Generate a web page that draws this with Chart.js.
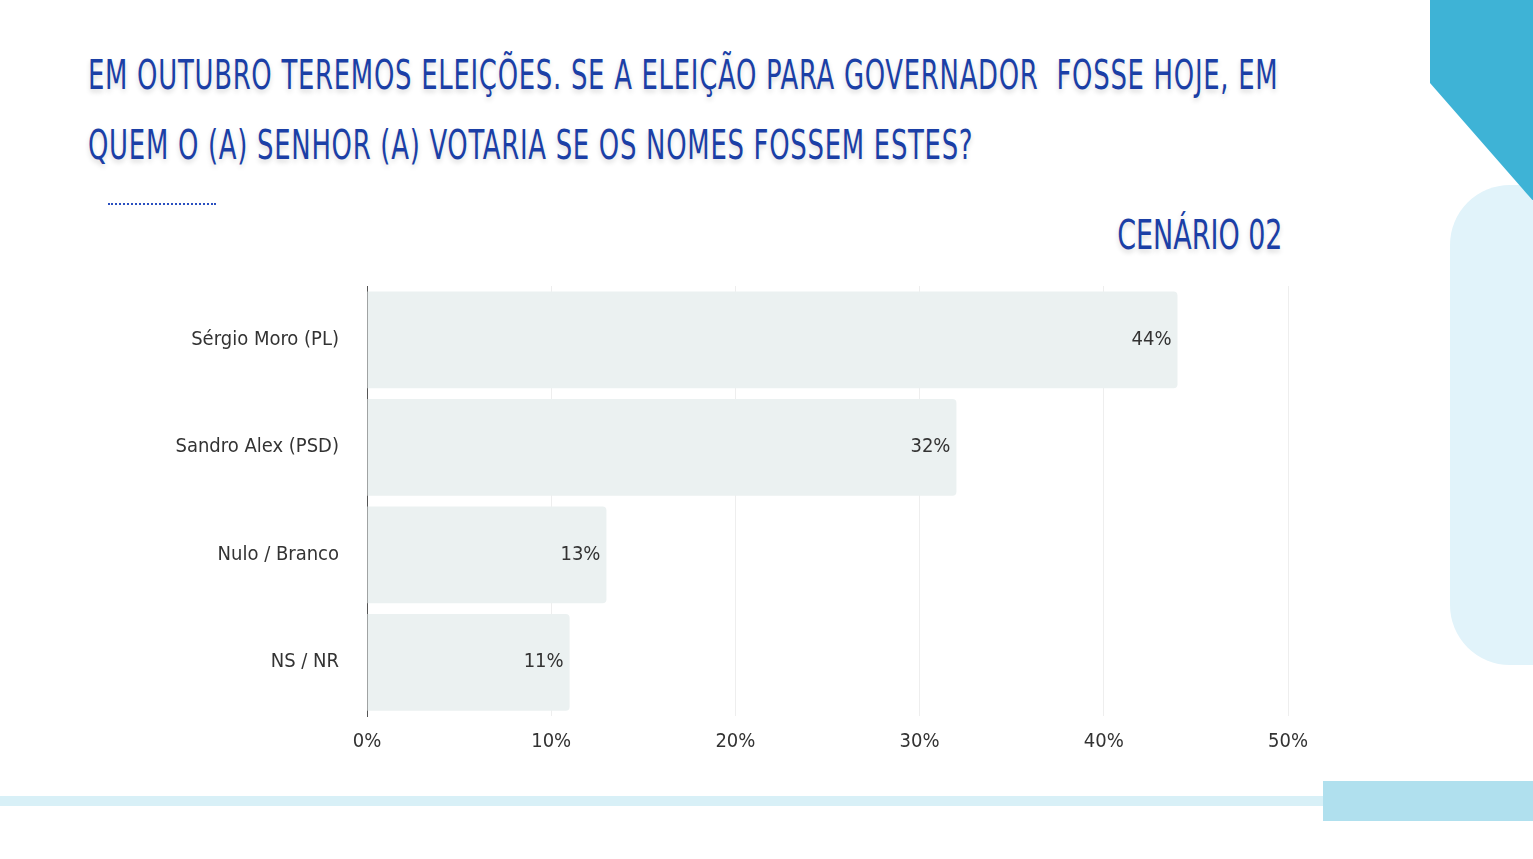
<!DOCTYPE html>
<html><head><meta charset="utf-8">
<script src="https://cdn.jsdelivr.net/npm/chart.js@4"></script>
<style>
body{margin:0;width:1533px;height:859px;overflow:hidden;background:#fff;position:relative;font-family:"DejaVu Sans Condensed","DejaVu Sans",sans-serif}
#t{position:absolute;left:88px;top:40px;color:#1b3fa6;font-size:40px;line-height:70px;letter-spacing:1px;transform:scaleX(0.72);transform-origin:left;text-shadow:0 3px 6px rgba(0,0,0,.15);white-space:nowrap}
#c2{position:absolute;right:250px;top:212px;color:#1b3fa6;font-size:40px;transform:scaleX(0.75);transform-origin:right;text-shadow:0 3px 6px rgba(0,0,0,.15)}
#dots{position:absolute;left:108px;top:203px;width:108px;border-top:2px dotted #2a4fc0}
.d1{position:absolute;left:1430px;top:-60px;width:160px;height:260px;background:#3eb3d6;border-radius:60px 0 0 60px;clip-path:polygon(0 0,100% 0,100% 100%,64% 100%,0 55%)}
.d2{position:absolute;left:1450px;top:185px;width:150px;height:480px;background:#e1f3fa;border-radius:60px 0 0 60px}
.bl{position:absolute;left:0;top:796px;width:1450px;height:10px;background:#d8f0f7}
.br{position:absolute;left:1323px;top:781px;width:210px;height:40px;background:#b0e0ee}
#w{position:absolute;left:0;top:0;width:1533px;height:859px}
</style></head><body>
<div class="d2"></div>
<div class="d1"></div>
<div class="bl"></div><div class="br"></div>
<div id="t">EM OUTUBRO TEREMOS ELEIÇÕES. SE A ELEIÇÃO PARA GOVERNADOR &nbsp;FOSSE HOJE, EM<br>QUEM O (A) SENHOR (A) VOTARIA SE OS NOMES FOSSEM ESTES?</div>
<div id="dots"></div>
<div id="c2">CENÁRIO 02</div>
<div id="w"><canvas id="c"></canvas></div>
<script>
const categories = ["Sérgio Moro (PL)", "Sandro Alex (PSD)", "Nulo / Branco", "NS / NR"];
const values = [44, 32, 13, 11];
const xTicks = [0, 10, 20, 30, 40, 50];
const FONT = "'DejaVu Sans Condensed', 'DejaVu Sans', sans-serif";

const labelPlugin = {
  id: "vals",
  afterDatasetsDraw(chart) {
    const ctx = chart.ctx;
    ctx.save();
    ctx.font = "20px " + FONT;
    ctx.fillStyle = "#333";
    ctx.textAlign = "right";
    ctx.textBaseline = "middle";
    chart.getDatasetMeta(0).data.forEach((bar, i) => {
      ctx.fillText(values[i] + "%", bar.x - 6, bar.y);
    });
    ctx.restore();
  }
};

new Chart("c", {
  type: "bar",
  data: {labels: categories, datasets: [{data: values, backgroundColor: "#ebf1f1", borderRadius: 4, borderSkipped: "left", categoryPercentage: 1, barPercentage: 0.9}]},
  options: {
    indexAxis: "y", responsive: true, maintainAspectRatio: false, animation: false,
    layout: {padding: {top: 286, right: 245, bottom: 93, left: 0}},
    plugins: {legend: {display: false}, tooltip: {enabled: false}},
    scales: {
      x: {min: 0, max: 50, afterFit: s => { s.height = 50; },
          afterBuildTicks: s => { s.ticks = xTicks.map(v => ({value: v})); },
          grid: {color: "#eeeeee", drawTicks: false}, border: {display: false},
          ticks: {padding: 14, color: "#333", font: {family: FONT, size: 20}, callback: v => v + "%"}},
      y: {afterFit: s => { s.width = 367; },
          grid: {display: false}, border: {color: "#555"},
          ticks: {padding: 20, color: "#333", font: {family: FONT, size: 20}}}
    }
  },
  plugins: [labelPlugin]
});
</script>
</body></html>
